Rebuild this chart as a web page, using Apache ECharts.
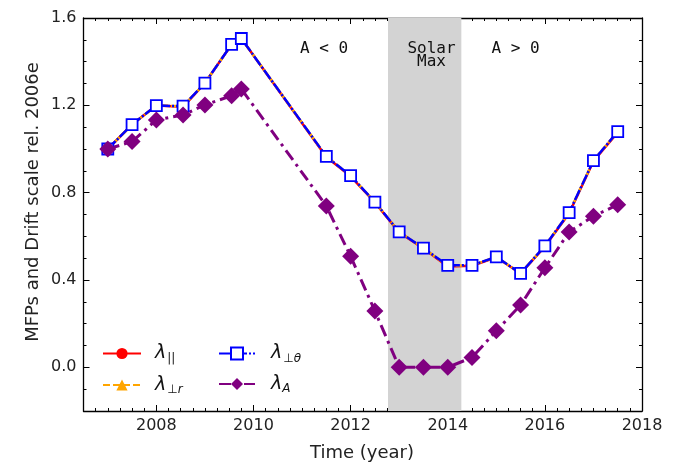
<!DOCTYPE html>
<html>
<head>
<meta charset="utf-8">
<script src="https://cdn.jsdelivr.net/npm/echarts@6/dist/echarts.min.js"></script>
<style>html,body{margin:0;padding:0;background:#fff}#c{width:681px;height:465px}</style>
</head>
<body>
<div id="c"></div>
<script>
// ---- data ----
const years = [2007, 2007.5, 2008, 2008.55, 2009, 2009.55, 2009.75, 2011.5, 2012, 2012.5, 2013, 2013.5, 2014, 2014.5, 2015, 2015.5, 2016, 2016.5, 2017, 2017.5];
const lamPar   = [1.00, 1.112, 1.199, 1.193, 1.302, 1.479, 1.506, 0.963, 0.875, 0.755, 0.618, 0.544, 0.462, 0.465, 0.504, 0.43, 0.553, 0.706, 0.944, 1.076];
const lamPerpR = [1.00, 1.112, 1.199, 1.196, 1.302, 1.479, 1.506, 0.966, 0.878, 0.757, 0.62, 0.546, 0.465, 0.467, 0.506, 0.43, 0.556, 0.709, 0.947, 1.08];
const lamPerpT = [1.00, 1.112, 1.199, 1.196, 1.302, 1.479, 1.506, 0.966, 0.878, 0.757, 0.62, 0.546, 0.467, 0.467, 0.506, 0.43, 0.556, 0.709, 0.947, 1.08];
const lamA     = [1.00, 1.034, 1.133, 1.156, 1.202, 1.244, 1.275, 0.739, 0.509, 0.258, 0.0, 0.0, 0.0, 0.045, 0.167, 0.285, 0.456, 0.62, 0.692, 0.745];
const solarMax = [2012.77, 2014.28];
const xMajor = [2008, 2010, 2012, 2014, 2016, 2018];
const yMajor = [0.0, 0.4, 0.8, 1.2, 1.6];
const xRange = [2006.5, 2018];
const yRange = [-0.2, 1.6];
const annA_neg = 'A < 0', annSolar = 'Solar\nMax', annA_pos = 'A > 0';
const yTitle = 'MFPs and Drift scale rel. 2006e';
const xTitle = 'Time (year)';

const xMinor = []; for (let v = 2006.75; v < 2018; v += 0.25) xMinor.push(+v.toFixed(2));
const yMinor = []; for (let i = -1; i < 16; i++) yMinor.push(+(i / 10).toFixed(1));

const pair = arr => years.map((y, i) => [y, arr[i]]);
const chart = echarts.init(document.getElementById('c'), null, {renderer: 'canvas'});
const FONT = 'DejaVu Sans';
const lineC = '#000';

function xAx(pos, vals, len, showLine, showLabel) {
  return {
    type: 'value', min: xRange[0], max: xRange[1], position: pos,
    axisLine: {show: showLine, onZero: false, lineStyle: {color: lineC, width: 1.3}},
    axisTick: {show: true, inside: true, length: len, customValues: vals, lineStyle: {color: lineC, width: 1}},
    axisLabel: {show: showLabel, customValues: vals, fontFamily: FONT, fontSize: 16, color: '#222', margin: 7,
      formatter: v => String(Math.round(v))},
    splitLine: {show: false}
  };
}
function yAx(pos, vals, len, showLine, showLabel) {
  return {
    type: 'value', min: yRange[0], max: yRange[1], position: pos,
    axisLine: {show: showLine, onZero: false, lineStyle: {color: lineC, width: 1.3}},
    axisTick: {show: true, inside: true, length: len, customValues: vals, lineStyle: {color: lineC, width: 1}},
    axisLabel: {show: showLabel, customValues: vals, fontFamily: FONT, fontSize: 16, color: '#222', margin: 7,
      formatter: v => v.toFixed(1)},
    splitLine: {show: false}
  };
}

const legendText = {
  par: '{l|λ}{s|||}',
  perpr: '{l|λ}{s|⊥}{si|r}',
  perpt: '{l|λ}{s|⊥}{si|θ}',
  A: '{l|λ}{si|A}'
};
function richFor(padL) {
  return {
    l: {fontFamily: FONT, fontSize: 19, fontStyle: 'italic', lineHeight: 22, color: '#111', padding: [0, 0, 0, padL]},
    s: {fontFamily: FONT, fontSize: 12, verticalAlign: 'bottom', color: '#111', padding: [0, 0, 0, 1]},
    si: {fontFamily: FONT, fontSize: 12, fontStyle: 'italic', verticalAlign: 'bottom', color: '#111'}
  };
}

const option = {
  animation: false,
  backgroundColor: '#fff',
  grid: {left: 83.5, right: 39, top: 18, bottom: 54, containLabel: false},
  xAxis: [
    xAx('bottom', xMajor, 6, true, true),
    xAx('bottom', xMinor, 3, false, false),
    xAx('top', xMajor, 6, true, false),
    xAx('top', xMinor, 3, false, false)
  ],
  yAxis: [
    yAx('left', yMajor, 6, true, true),
    yAx('left', yMinor, 3, false, false),
    yAx('right', yMajor, 6, true, false),
    yAx('right', yMinor, 3, false, false)
  ],
  legend: [
    {data: ['par', 'perpr'], orient: 'vertical', left: 97, top: 339, itemWidth: 38, itemHeight: 14, itemGap: 11,
      formatter: n => legendText[n], textStyle: {rich: richFor(9)}},
    {data: ['perpt', 'A'], orient: 'vertical', left: 213, top: 339, itemWidth: 36, itemHeight: 15, itemGap: 10,
      formatter: n => legendText[n], textStyle: {rich: richFor(11)}}
  ],
  graphic: [
    {type: 'text', x: 33, y: 202, rotation: Math.PI / 2, style: {text: yTitle, fontFamily: FONT, fontSize: 18, fill: '#222', textAlign: 'center', textVerticalAlign: 'middle'}},
    {type: 'text', x: 362, y: 453, style: {text: xTitle, fontFamily: FONT, fontSize: 18, fill: '#222', textAlign: 'center', textVerticalAlign: 'middle'}},
    {type: 'text', x: 324, y: 49, z: 100, style: {text: annA_neg, fontFamily: 'DejaVu Sans Mono', fontSize: 16, fill: '#111', textAlign: 'center', textVerticalAlign: 'middle'}},
    {type: 'text', x: 431.5, y: 55, z: 100, style: {text: annSolar, fontFamily: 'DejaVu Sans Mono', fontSize: 16, lineHeight: 13, fill: '#111', textAlign: 'center', textVerticalAlign: 'middle'}},
    {type: 'text', x: 515.5, y: 49, z: 100, style: {text: annA_pos, fontFamily: 'DejaVu Sans Mono', fontSize: 16, fill: '#111', textAlign: 'center', textVerticalAlign: 'middle'}}
  ],
  series: [
    {name: 'band', type: 'line', data: [], z: -1, silent: true,
      markArea: {silent: true, itemStyle: {color: '#d3d3d3'}, data: [[{xAxis: solarMax[0]}, {xAxis: solarMax[1]}]]}},
    {name: 'par', type: 'line', data: pair(lamPar), symbol: 'circle', symbolSize: 8,
      itemStyle: {color: '#ff0000'}, lineStyle: {color: '#ff0000', width: 2.5, type: 'solid'}},
    {name: 'perpr', type: 'line', data: pair(lamPerpR), symbol: 'triangle', symbolSize: 9,
      itemStyle: {color: '#ffa500'}, lineStyle: {color: '#ffa500', width: 2.5, type: [7, 3]}},
    {name: 'perpt', type: 'line', data: pair(lamPerpT), symbol: 'rect', symbolSize: 11,
      itemStyle: {color: '#fff', borderColor: '#0000ff', borderWidth: 1.8}, lineStyle: {color: '#0000ff', width: 2.5, type: [11, 2, 2, 2]}},
    {name: 'A', type: 'line', data: pair(lamA), symbol: 'diamond', symbolSize: 17,
      itemStyle: {color: '#800080'}, lineStyle: {color: '#800080', width: 3, type: [12, 5, 3, 5]}}
  ]
};
chart.setOption(option);
</script>
</body>
</html>
